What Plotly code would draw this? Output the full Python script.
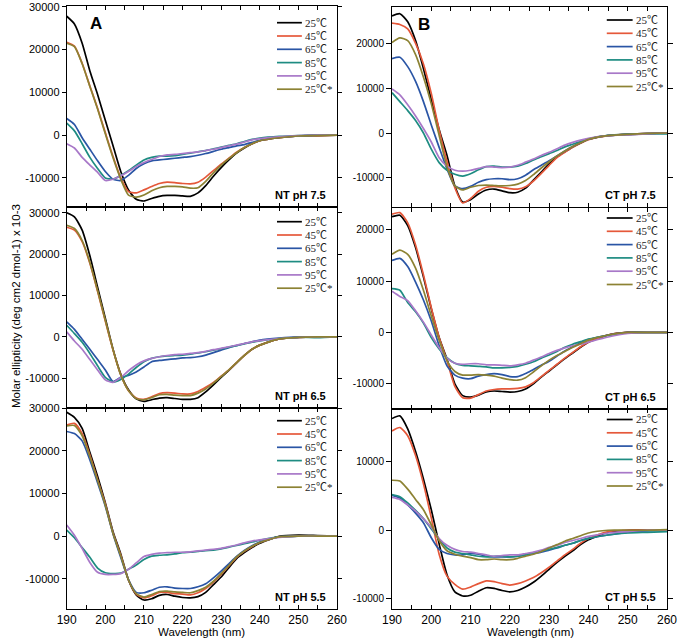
import plotly.graph_objects as go

# ---------------- data ----------------
wavelength = [190, 192, 194, 196, 198, 200, 202, 204, 206, 208, 210, 212, 214, 216, 218,
              220, 222, 224, 226, 228, 230, 232, 234, 236, 238, 240, 245, 250, 255, 260]

series_labels = ["25℃", "45℃", "65℃", "85℃", "95℃", "25℃*"]
series_colors = ["#000000", "#e5583a", "#2a55a5", "#1e8c82", "#a878c8", "#8c8233"]
panel_titles = ["NT pH 7.5", "NT pH 6.5", "NT pH 5.5", "CT pH 7.5", "CT pH 6.5", "CT pH 5.5"]
panel_letters = ["A", "", "", "B", "", ""]
x_ticks = [190, 200, 210, 220, 230, 240, 250, 260]
x_minor_ticks = [195, 205, 215, 225, 235, 245, 255]
y_ticks_nt = [-10000, 0, 10000, 20000, 30000]
y_ticks_ct = [-10000, 0, 10000, 20000]
y_ticks_ct55 = [-10000, 0, 10000]

# NT pH 7.5
nt75_25 = [27800, 26000, 21500, 15000, 9500, 3500, -2500, -8500, -12800, -15000, -15400, -14800, -14300, -14100, -14100,
           -14200, -14300, -13500, -11800, -9600, -7600, -5800, -4200, -3000, -2000, -1300, -600, -200, -100, 0]
nt75_45 = [21700, 20800, 16800, 11500, 6300, 600, -5000, -10000, -13200, -13500, -12800, -12000, -11300, -11000, -11100,
           -11300, -11400, -11000, -9800, -8300, -6800, -5400, -4000, -2900, -2000, -1300, -600, -200, -100, 0]
nt75_65 = [3900, 2500, -600, -3300, -6000, -8500, -10300, -10600, -9400, -7800, -6700, -6000, -5800, -5600, -5400,
           -5200, -5000, -4700, -4300, -3800, -3300, -2900, -2500, -2200, -1700, -1200, -500, -200, 0, 0]
nt75_85 = [2800, 1000, -2000, -5200, -7800, -10000, -10300, -9400, -8300, -7000, -5800, -5200, -4900, -4900, -4800,
           -4500, -4200, -3900, -3600, -3200, -2800, -2400, -2000, -1500, -1000, -700, -300, -100, 0, 0]
nt75_95 = [-2000, -3000, -5200, -7000, -8700, -10600, -10300, -9500, -8500, -7300, -6400, -5700, -5000, -4600, -4500,
           -4300, -4100, -3900, -3600, -3300, -2900, -2500, -2100, -1600, -1100, -800, -400, -100, 0, 0]
nt75_25r = [21500, 20700, 16700, 11400, 6100, 300, -5300, -10300, -14000, -14500, -14000, -13000, -12300, -12000, -12000,
            -12100, -12400, -12300, -10800, -8800, -7000, -5500, -4100, -2900, -2000, -1300, -600, -200, -100, 0]

# NT pH 6.5
nt65_25 = [30000, 29000, 25800, 19600, 12000, 4500, -3000, -9000, -12800, -15000, -15600, -15200, -14800, -14700, -14900,
           -15100, -15100, -14700, -13300, -11600, -9800, -8100, -6300, -4500, -3000, -2000, -500, -100, 0, 0]
nt65_45 = [26500, 25800, 23000, 17800, 11000, 3800, -3200, -9200, -13000, -14800, -15100, -14500, -13700, -13500, -13600,
           -13800, -13800, -13200, -12200, -11000, -9500, -8000, -6200, -4500, -3000, -2000, -500, -100, 0, 0]
nt65_65 = [3600, 1800, -600, -3000, -5500, -8000, -10800, -9800, -9300, -8500, -7300, -6000, -5700, -5500, -5300,
           -5100, -5000, -4800, -4400, -3800, -3200, -2600, -2100, -1600, -1200, -800, -300, 0, 0, 0]
nt65_85 = [2800, 800, -1300, -4000, -7000, -9800, -10900, -10300, -9000, -7400, -6000, -5200, -4800, -4600, -4500,
           -4400, -4200, -3900, -3600, -3200, -2900, -2500, -2100, -1700, -1300, -1000, -400, -100, -200, 0]
nt65_95 = [1200, -1000, -3000, -5500, -8000, -10400, -11000, -9800, -8200, -6800, -5800, -5200, -4800, -4500, -4300,
           -4200, -4000, -3800, -3500, -3100, -2800, -2400, -2000, -1600, -1200, -900, -400, -100, 0, 0]
nt65_25r = [27000, 26200, 23300, 18000, 11200, 4000, -3100, -9200, -13000, -14900, -15200, -14700, -14000, -13900, -14100,
            -14200, -14200, -13600, -12600, -11200, -9600, -8000, -6200, -4500, -3000, -2000, -500, -100, 0, 0]

# NT pH 5.5
nt55_25 = [29000, 27800, 25200, 19600, 14000, 7800, 1000, -4200, -10300, -13800, -15000, -14700, -13900, -13700, -14100,
           -14400, -14500, -14200, -13200, -11400, -9600, -7400, -5300, -3900, -2700, -1700, -100, 200, 100, 0]
nt55_45 = [26000, 26400, 24000, 19000, 13200, 7500, 700, -4500, -10300, -13600, -14500, -14000, -13200, -13200, -13500,
           -13600, -13800, -13300, -12300, -10800, -9000, -7000, -5000, -3600, -2500, -1500, -200, 0, 0, 0]
nt55_65 = [24500, 24000, 22300, 17800, 12500, 7000, 500, -5000, -10200, -13200, -13300, -12700, -12000, -11900, -12200,
           -12300, -12300, -11900, -11200, -9800, -8200, -6500, -4800, -3400, -2300, -1400, -200, 0, 0, 0]
nt55_85 = [1400, -400, -2700, -5000, -7500, -8600, -8800, -8700, -7800, -6800, -5500, -4700, -4500, -4400, -4200,
           -3900, -3800, -3600, -3400, -3300, -3000, -2600, -2200, -1800, -1400, -1000, -200, 0, 0, 0]
nt55_95 = [2600, 200, -2900, -6200, -8500, -9000, -9000, -8800, -7800, -6300, -4800, -4300, -4000, -3900, -3800,
           -3800, -3700, -3500, -3300, -3100, -2900, -2500, -2100, -1600, -1200, -900, -300, 0, 0, 0]
nt55_25r = [25800, 25900, 23500, 18600, 13000, 7200, 600, -4700, -10300, -13500, -14300, -13700, -13000, -12900, -13100,
            -13200, -13300, -12800, -12000, -10600, -8800, -6900, -4900, -3500, -2400, -1500, -200, 0, 0, 0]

# CT pH 7.5
ct75_25 = [26100, 26600, 24800, 20600, 14400, 7500, 800, -5000, -11800, -15400, -14900, -13600, -12700, -12500, -12900,
           -13300, -13200, -12300, -10500, -8700, -6900, -5300, -4200, -3100, -2200, -1400, -600, -300, -200, 0]
ct75_45 = [24500, 24200, 23200, 20000, 15400, 8800, 700, -6300, -12200, -15600, -14600, -13000, -12100, -11900, -12100,
           -12400, -12500, -12000, -10700, -9000, -7200, -5500, -4300, -3200, -2300, -1500, -600, -300, -100, 0]
ct75_65 = [16600, 16900, 14800, 11500, 7000, 1800, -3200, -8000, -11800, -12400, -11900, -11000, -10400, -10200, -10200,
           -10400, -10200, -9400, -8200, -7200, -6200, -5100, -4000, -3000, -2200, -1400, -600, -300, -100, 0]
ct75_85 = [9000, 7000, 5000, 2800, 0, -3600, -6600, -8300, -9200, -9600, -9100, -8200, -7500, -7400, -7600,
           -7600, -7400, -6800, -6000, -5300, -4600, -3900, -3100, -2500, -1900, -1300, -500, -300, -200, -200]
ct75_95 = [9800, 8500, 6300, 3800, 1000, -2000, -5500, -7400, -8300, -8500, -8300, -7900, -7500, -7600, -7700,
           -7600, -7200, -6500, -5800, -5000, -4300, -3500, -2700, -2100, -1600, -1200, -600, -400, -200, 0]
ct75_25r = [20200, 21200, 20600, 17500, 12500, 6500, -500, -7500, -11800, -12700, -12100, -11700, -11600, -11700, -11800,
            -11700, -11400, -10600, -9300, -7800, -6400, -5100, -4000, -3000, -2200, -1400, -600, -300, -100, 0]

# CT pH 6.5
ct65_25 = [22500, 22800, 20800, 16500, 10800, 4600, -1000, -5200, -10000, -12300, -12600, -12200, -11600, -11400, -11500,
           -11600, -11500, -11000, -10000, -8700, -7500, -6300, -5100, -4000, -2900, -1900, -500, 0, 0, 0]
ct65_45 = [23000, 23300, 21300, 17000, 11200, 4800, -1000, -5500, -10500, -12700, -12800, -12100, -11400, -11100, -11000,
           -11000, -10900, -10600, -9800, -8600, -7400, -6200, -5000, -3900, -2800, -1900, -500, 0, 0, 0]
ct65_65 = [14000, 14400, 12800, 9800, 6300, 2200, -2600, -6500, -8300, -8900, -9000, -8500, -8200, -8000, -8200,
           -8600, -8600, -8000, -7200, -6400, -5600, -4600, -3600, -2800, -2000, -1400, -500, 0, 0, 0]
ct65_85 = [8500, 8200, 5800, 4000, 1800, -1000, -3200, -4900, -6000, -6400, -6500, -6600, -6700, -6900, -6900,
           -6800, -6600, -6200, -5700, -5000, -4400, -3700, -2900, -2300, -1800, -1300, -600, -100, 0, 0]
ct65_95 = [8000, 7000, 6200, 4200, 2000, -500, -3000, -5000, -6000, -6200, -6100, -6100, -6300, -6300, -6400,
           -6500, -6300, -6000, -5400, -4800, -4100, -3500, -3000, -2600, -2300, -1900, -900, -200, 0, 0]
ct65_25r = [15200, 16000, 15200, 12500, 8200, 3200, -1500, -5500, -7600, -8300, -8300, -8200, -8300, -8500, -8900,
            -9200, -9300, -8800, -7700, -6500, -5400, -4500, -3700, -2900, -2200, -1500, -500, 0, 0, 0]

# CT pH 5.5
ct55_25 = [16300, 16700, 14800, 11500, 7500, 3000, -2000, -6500, -9000, -9600, -9500, -8900, -8400, -8500, -8800,
           -9000, -8800, -8300, -7600, -6700, -5700, -4700, -3800, -3000, -2100, -1400, -300, 0, 0, 0]
ct55_45 = [14500, 15000, 13800, 10900, 6800, 1800, -3500, -6700, -7900, -8600, -8300, -7800, -7400, -7500, -7800,
           -8000, -7800, -7400, -6900, -6200, -5400, -4500, -3600, -2800, -1900, -1200, -200, 0, 0, 0]
ct55_65 = [5100, 4700, 3700, 2500, 1100, -1100, -2800, -3400, -3600, -3600, -3400, -3500, -3800, -3900, -3900,
           -3900, -3800, -3600, -3400, -3200, -2900, -2600, -2200, -1900, -1500, -1200, -700, -300, -100, 0]
ct55_85 = [5200, 4900, 4000, 2900, 1700, 200, -1300, -2600, -3200, -3400, -3600, -3800, -3900, -3800, -3800,
           -3900, -3800, -3600, -3300, -3000, -2800, -2500, -2200, -1900, -1500, -1200, -700, -400, -300, -200]
ct55_95 = [4800, 4500, 3700, 2800, 1700, 400, -1200, -2200, -2800, -3100, -3200, -3400, -3600, -3800, -3700,
           -3600, -3600, -3400, -3200, -2900, -2500, -2200, -1800, -1500, -1200, -900, -400, -200, 0, 0]
ct55_25r = [7300, 7200, 6000, 4500, 3000, 800, -1500, -3000, -3500, -3800, -4000, -4300, -4300, -4200, -4300,
            -4300, -4100, -3800, -3500, -3100, -2600, -2100, -1600, -1200, -800, -400, 0, 0, 0, 100]

panel_series = [
    [nt75_25, nt75_45, nt75_65, nt75_85, nt75_95, nt75_25r],
    [nt65_25, nt65_45, nt65_65, nt65_85, nt65_95, nt65_25r],
    [nt55_25, nt55_45, nt55_65, nt55_85, nt55_95, nt55_25r],
    [ct75_25, ct75_45, ct75_65, ct75_85, ct75_95, ct75_25r],
    [ct65_25, ct65_45, ct65_65, ct65_85, ct65_95, ct65_25r],
    [ct55_25, ct55_45, ct55_65, ct55_85, ct55_95, ct55_25r],
]
y_ranges = [[-16800, 30200], [-17200, 31400], [-17100, 30000],
            [-16500, 28100], [-14900, 24200], [-11500, 17700]]
y_tickvals = [y_ticks_nt, y_ticks_nt, y_ticks_nt, y_ticks_ct, y_ticks_ct, y_ticks_ct55]

# ---------------- layout geometry (pixels) ----------------
W, H = 681, 644
col_x = [(66.7, 337.0), (392.0, 667.0)]
row_y = [[(6, 207), (207, 408), (408, 609)],
         [(7, 207), (208, 409), (409, 609)]]
legend_top = [[16.7, 14.7, 12.7], [13.0, 10.0, 10.5]]
legend_step = 13.3

SANS = "Liberation Sans, Arial, sans-serif"
SERIF = "Liberation Serif, Times New Roman, Noto Sans CJK SC, serif"

fig = go.Figure()
layout = dict(width=W, height=H, margin=dict(l=0, r=0, t=0, b=0, pad=0, autoexpand=False),
              template="none",
              paper_bgcolor="white", plot_bgcolor="white", showlegend=False,
              font=dict(family=SANS, color="black"))
shapes, annotations = [], []

for p in range(6):
    col, row = p // 3, p % 3
    idx = "" if p == 0 else str(p + 1)
    xa, ya = "x" + idx, "y" + idx
    x0, x1 = col_x[col]
    yt, yb = row_y[col][row]
    for k in range(6):
        fig.add_trace(go.Scatter(
            x=wavelength, y=panel_series[p][k], mode="lines",
            line=dict(color=series_colors[k], width=1.7, shape="spline", smoothing=0.6),
            name=series_labels[k], xaxis=xa, yaxis=ya, hoverinfo="skip"))
    bottom = (row == 2)
    layout["xaxis" + idx] = dict(
        domain=[x0 / W, x1 / W], anchor=ya, range=[190, 260], automargin=False,
        tickvals=x_ticks, ticktext=[str(v) for v in x_ticks],
        showticklabels=bottom, ticks="inside", ticklen=4, tickcolor="black", tickwidth=1,
        minor=dict(tickvals=x_minor_ticks, ticks="inside", ticklen=4, tickcolor="black", tickwidth=1),
        showline=True, linecolor="black", linewidth=1, mirror="allticks",
        showgrid=False, zeroline=False, tickfont=dict(size=12, family=SANS, color="black"))
    tv = y_tickvals[p]
    layout["yaxis" + idx] = dict(
        domain=[1 - yb / H, 1 - yt / H], anchor=xa, range=y_ranges[p], automargin=False,
        tickvals=tv, ticktext=[str(v) for v in tv],
        ticks="outside", ticklen=4 if col == 0 else 5, tickcolor="black", tickwidth=1,
        showline=True, linecolor="black", linewidth=1, mirror="allticks",
        showgrid=False, zeroline=False,
        tickfont=dict(size=11 if col == 0 else 10, family=SANS, color="black"))

    h = yb - yt
    # legend drawn inside the panel
    lx0 = (0.778 if col == 0 else 0.781)
    lx1 = (0.870 if col == 0 else 0.875)
    for k in range(6):
        yy = 1 - (legend_top[col][row] + k * legend_step) / h
        shapes.append(dict(type="line", xref=xa + " domain", yref=ya + " domain",
                           x0=lx0, x1=lx1, y0=yy, y1=yy,
                           line=dict(color=series_colors[k], width=1.7)))
        annotations.append(dict(text=series_labels[k], xref=xa + " domain", yref=ya + " domain",
                                x=lx1 + 0.004, y=yy, xanchor="left", yanchor="middle", showarrow=False,
                                font=dict(size=11, family=SERIF, color="#222")))
    # panel condition label
    annotations.append(dict(text="<b>" + panel_titles[p] + "</b>", xref=xa + " domain", yref=ya + " domain",
                            x=0.968, y=0.06, xanchor="right", yanchor="middle", showarrow=False,
                            font=dict(size=11, family=SANS, color="black")))
    if panel_letters[p]:
        annotations.append(dict(text="<b>" + panel_letters[p] + "</b>", xref=xa + " domain", yref=ya + " domain",
                                x=0.08 if col == 0 else 0.088, y=0.915, xanchor="left", yanchor="middle",
                                showarrow=False, font=dict(size=17, family=SANS, color="black")))

# axis titles
annotations.append(dict(text="Molar ellipticity (deg cm2 dmol-1) x 10-3", xref="paper", yref="paper",
                        x=16 / W, y=1 - 306 / H, xanchor="center", yanchor="middle", textangle=-90,
                        showarrow=False, font=dict(size=11.5, family=SANS, color="black")))
for cx in (202, 530):
    annotations.append(dict(text="Wavelength (nm)", xref="paper", yref="paper",
                            x=cx / W, y=1 - 632 / H, xanchor="center", yanchor="middle",
                            showarrow=False, font=dict(size=11.5, family=SANS, color="black")))

layout["shapes"] = shapes
layout["annotations"] = annotations
fig.update_layout(**layout)
fig.write_html("out.html", config={"displayModeBar": False},
               post_script="document.body.style.margin='0px';document.body.style.padding='0px';")
